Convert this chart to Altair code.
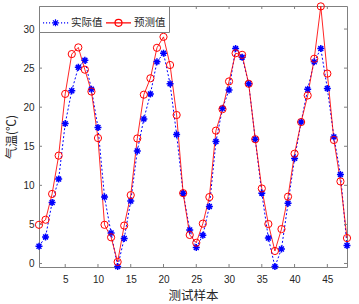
import altair as alt
import pandas as pd

samples = list(range(1, 49))
actual = [2.2, 3.4, 7.8, 10.8, 17.9, 22.1, 25.1, 26.0, 22.3, 17.4,
          8.5, 3.9, -0.4, 3.2, 8.0, 14.4, 18.5, 21.7, 25.8, 26.9,
          23.0, 16.5, 9.0, 4.3, 2.05, 3.6, 7.3, 15.6, 19.85, 22.2,
          27.5, 26.4, 23.0, 15.9, 9.0, 3.25, -0.4, 1.85, 7.7, 13.45,
          18.1, 22.3, 25.8, 27.5, 22.4, 16.2, 11.4, 2.3]
predicted = [4.95, 5.6, 8.9, 13.8, 21.7, 26.8, 27.65, 24.8, 22.0, 16.05,
             4.95, 3.35, 0.2, 4.85, 8.75, 16.0, 21.6, 23.7, 27.6, 29.0,
             25.4, 19.0, 9.0, 3.65, 2.65, 5.1, 8.5, 17.0, 19.75, 23.3,
             26.9, 26.7, 23.0, 15.9, 9.6, 5.05, 1.6, 4.4, 8.55, 14.05,
             18.1, 21.5, 26.2, 32.9, 24.3, 15.8, 10.5, 3.25]
series_names = ["实际值", "预测值"]
x_ticks = [5, 10, 15, 20, 25, 30, 35, 40, 45]
y_ticks = [0, 5, 10, 15, 20, 25, 30]

df = pd.DataFrame({
    "x": samples * 2,
    "y": actual + predicted,
    "series": [series_names[0]] * len(samples) + [series_names[1]] * len(samples),
})
xt = pd.DataFrame({"x": x_ticks})
yt = pd.DataFrame({"y": y_ticks})

W, H = 308, 261
BLUE, RED = "#0000ff", "#ff0000"
FRAME = "#808080"
TXT = "#262626"
CJK = "Noto Sans CJK SC"
NUM = "Liberation Sans"

star = "M-1,0L1,0M0,-1L0,1M-0.7,-0.7L0.7,0.7M-0.7,0.7L0.7,-0.7"

# legend symbols: line + marker, x in [-1, 1]
dots = "".join(f"M{-1 + k * 0.24:.2f},0L{-1 + k * 0.24 + 0.09:.2f},0" for k in range(9))
r = 0.28
leg_blue = dots + f"M{-r},0L{r},0M0,{-r}L0,{r}M{-0.2},{-0.2}L0.2,0.2M{-0.2},0.2L0.2,{-0.2}"
leg_red = f"M-1,0L1,0M{-r},0A{r},{r} 0 1,0 {r},0A{r},{r} 0 1,0 {-r},0"

xs = alt.Scale(domain=[1, 48], nice=False, zero=False)
ys = alt.Scale(domain=[-0.45, 32.95], nice=False, zero=False)

x_axis = alt.Axis(values=x_ticks, title="测试样本", grid=False, domain=False, ticks=False,
                  labelPadding=7, labelFont=NUM, labelFontSize=10, labelColor=TXT,
                  titleFont=CJK, titleFontSize=12.5, titleFontWeight="normal", titleColor=TXT,
                  titlePadding=5)
y_axis = alt.Axis(values=y_ticks, title="气温(℃)", grid=False, domain=False, ticks=False,
                  labelPadding=5, labelFont=NUM, labelFontSize=10, labelColor=TXT,
                  titleFont=CJK, titleFontSize=12, titleFontWeight="normal", titleColor=TXT,
                  titlePadding=4)

X = alt.X("x:Q", scale=xs, axis=x_axis)
Y = alt.Y("y:Q", scale=ys, axis=y_axis)

base = alt.Chart(df)

blue_line = base.transform_filter(alt.datum.series == series_names[0]).mark_line(
    color=BLUE, strokeWidth=1, strokeDash=[2, 2]).encode(x=X, y=Y)
red_line = base.transform_filter(alt.datum.series == series_names[1]).mark_line(
    color=RED, strokeWidth=1, opacity=0.85).encode(x=X, y=Y)
blue_pts = base.transform_filter(alt.datum.series == series_names[0]).mark_point(
    shape=star, color=BLUE, size=49, strokeWidth=1.5, filled=False, opacity=1).encode(x=X, y=Y)
red_pts = base.transform_filter(alt.datum.series == series_names[1]).mark_point(
    shape="circle", color=RED, size=52, strokeWidth=1, filled=False, opacity=1).encode(x=X, y=Y)

legend = alt.Legend(title=None, orient="none", legendX=0, legendY=0, direction="horizontal",
                    symbolSize=625, symbolStrokeWidth=1.2, symbolOpacity=1,
                    labelFont=CJK, labelFontSize=10.5, labelColor=TXT, labelOffset=2,
                    strokeColor=FRAME, fillColor="white", padding=3, columnPadding=0,
                    cornerRadius=0)
leg_layer = base.mark_point(filled=False, opacity=0).encode(
    x=X, y=Y,
    color=alt.Color("series:N", scale=alt.Scale(domain=series_names, range=[BLUE, RED]), legend=legend),
    shape=alt.Shape("series:N", scale=alt.Scale(domain=series_names, range=[leg_blue, leg_red]), legend=legend),
)

tick_bottom = alt.Chart(xt).mark_rule(color=FRAME, strokeWidth=1).encode(
    x=X, y=alt.value(H), y2=alt.value(H - 3))
tick_top = alt.Chart(xt).mark_rule(color=FRAME, strokeWidth=1).encode(
    x=X, y=alt.value(0), y2=alt.value(3))
tick_left = alt.Chart(yt).mark_rule(color=FRAME, strokeWidth=1).encode(
    y=Y, x=alt.value(0), x2=alt.value(3))
tick_right = alt.Chart(yt).mark_rule(color=FRAME, strokeWidth=1).encode(
    y=Y, x=alt.value(W), x2=alt.value(W - 3))

chart = alt.layer(
    blue_line, red_line, blue_pts, red_pts, leg_layer,
    tick_bottom, tick_top, tick_left, tick_right,
).properties(
    width=W, height=H,
    autosize=alt.AutoSizeParams(type="none"),
    padding={"left": 39, "top": 6, "right": 12, "bottom": 37},
    background="white",
).configure_view(stroke=FRAME, strokeWidth=1)

chart.save("out.html", embed_options={"renderer": "svg", "actions": False})
